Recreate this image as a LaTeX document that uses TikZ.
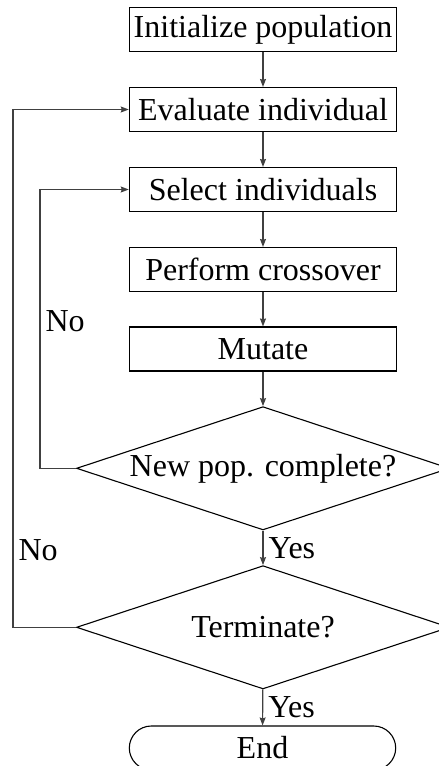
\documentclass[tikz,border=0pt]{standalone}
\usepackage{fontspec}
\setmainfont{Liberation Serif}
\usetikzlibrary{shapes.geometric,shapes.misc,arrows.meta}
\begin{document}
\begin{tikzpicture}[x=1pt,y=-1pt,
  every node/.style={font=\fontsize{32}{38}\selectfont},
  stepbox/.style={draw, line width=1.1pt, minimum width=267.4pt, minimum height=44pt, inner sep=0pt},
  decision/.style={draw, diamond, line width=1.1pt, shape aspect=3.02, minimum width=373pt, minimum height=123.3pt, inner sep=0pt},
  terminal/.style={draw, rounded rectangle, line width=1.1pt, minimum width=266.4pt, minimum height=44pt, inner sep=0pt},
  arr/.style={draw=black!75, line width=1.2pt, -{Stealth[length=8pt,width=6pt,inset=1pt]}},
  lbl/.style={inner sep=0pt}
]
\useasboundingbox (0,0) rectangle (439,766);
\node[stepbox] (init) at (263,29.5) {Initialize population};
\node[stepbox] (eval) at (263,109.5) {Evaluate individual};
\node[stepbox] (sel) at (263,189.5) {Select individuals};
\node[stepbox] (cross) at (263,269.5) {Perform crossover};
\node[stepbox] (mut) at (263,349) {Mutate};
\node[decision] (dec1) at (263,468.3) {New pop. complete?};
\node[decision] (dec2) at (263,627.3) {Terminate?};
\node[terminal] (end) at (262.5,748) {End};
\coordinate (c1) at (40,468.3);
\coordinate (c2) at (40,189.5);
\coordinate (c3) at (13,627.3);
\coordinate (c4) at (13,109.5);
\draw[arr] (init) -- (eval);
\draw[arr] (eval) -- (sel);
\draw[arr] (sel) -- (cross);
\draw[arr] (cross) -- (mut);
\draw[arr] (mut) -- (dec1);
\draw[arr] (dec1) -- node[lbl, anchor=west, xshift=5pt] {Yes} (dec2);
\draw[arr] (dec2) -- node[lbl, anchor=west, xshift=5pt] {Yes} (end);
\draw[arr] (dec1.west) -- (c1) -- node[lbl, anchor=west, xshift=5pt, pos=0.526] {No} (c2) -- (sel.west);
\draw[arr] (dec2.west) -- (c3) -- node[lbl, anchor=west, xshift=5pt, pos=0.149] {No} (c4) -- (eval.west);
\end{tikzpicture}
\end{document}
